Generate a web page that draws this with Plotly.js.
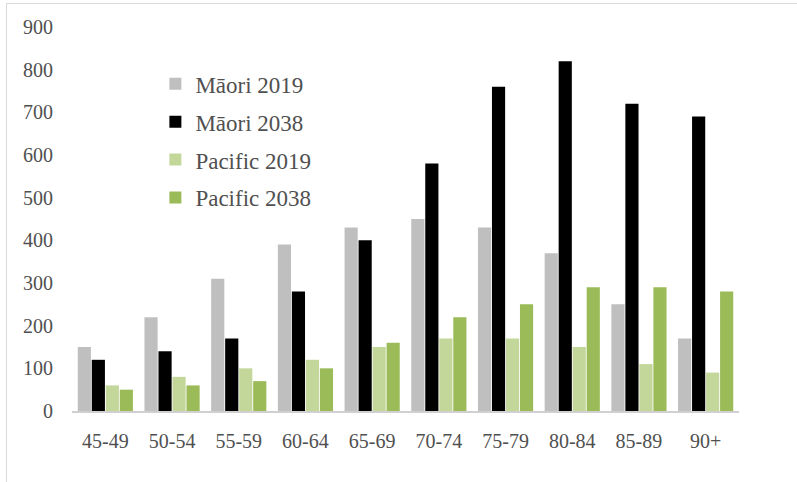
<!DOCTYPE html>
<html>
<head>
<meta charset="utf-8">
<script src="https://cdn.plot.ly/plotly-3.0.1.min.js"></script>
<style>
  html, body { margin: 0; padding: 0; background: #fff; }
  #wrap { position: relative; width: 797px; height: 482px; }
  #chart { width: 797px; height: 482px; }
  #frame { position: absolute; left: 6px; top: 3px; right: 0; bottom: 0;
           border-top: 1.5px solid #d9d9d9; border-left: 1.5px solid #d9d9d9; pointer-events: none; }
</style>
</head>
<body>
<div id="wrap">
  <div id="chart"></div>
  <div id="frame"></div>
</div>
<script>
const categories = ["45-49", "50-54", "55-59", "60-64", "65-69", "70-74", "75-79", "80-84", "85-89", "90+"];
const maori2019 = [150, 220, 310, 390, 430, 450, 430, 370, 250, 170];
const maori2038 = [120, 140, 170, 280, 400, 580, 760, 820, 720, 690];
const pacific2019 = [60, 80, 100, 120, 150, 170, 170, 150, 110, 90];
const pacific2038 = [50, 60, 70, 100, 160, 220, 250, 290, 290, 280];
const seriesNames = ["Māori 2019", "Māori 2038", "Pacific 2019", "Pacific 2038"];
const seriesColors = ["#BFBFBF", "#000000", "#C4D79B", "#9BBB59"];
const seriesValues = [maori2019, maori2038, pacific2019, pacific2038];

const traces = seriesValues.map((vals, i) => ({
  type: "bar",
  x: categories,
  y: vals,
  name: seriesNames[i],
  legendgroup: "g" + i,
  marker: { color: seriesColors[i], line: { width: 0 } }
}));

const font = "'Liberation Serif', 'DejaVu Serif', serif";
const layout = {
  width: 797, height: 482,
  margin: { l: 72, r: 58, t: 27, b: 71 },
  paper_bgcolor: "#ffffff", plot_bgcolor: "#ffffff",
  barmode: "group",
  bargap: 0.16,
  bargroupgap: 0.06,
  font: { family: font, color: "#505050", size: 20 },
  xaxis: {
    showgrid: false, zeroline: false,
    showline: true, linecolor: "#d0d0d0", linewidth: 1.5,
    ticks: "", ticklabelstandoff: 11,
    tickfont: { family: font, size: 20, color: "#505050" }
  },
  yaxis: {
    range: [0, 900], dtick: 100, showgrid: false, zeroline: false,
    showline: false, ticks: "", ticklabelstandoff: 18,
    tickfont: { family: font, size: 20, color: "#505050" }
  },
  showlegend: true,
  legend: {
    x: 0.125, y: 0.908, xanchor: "left", yanchor: "top",
    bgcolor: "rgba(0,0,0,0)",
    font: { family: font, size: 23, color: "#505050" },
    traceorder: "grouped", tracegroupgap: 5,
    itemwidth: 30
  }
};

Plotly.newPlot("chart", traces, layout, { displayModeBar: false, staticPlot: true });
</script>
</body>
</html>
